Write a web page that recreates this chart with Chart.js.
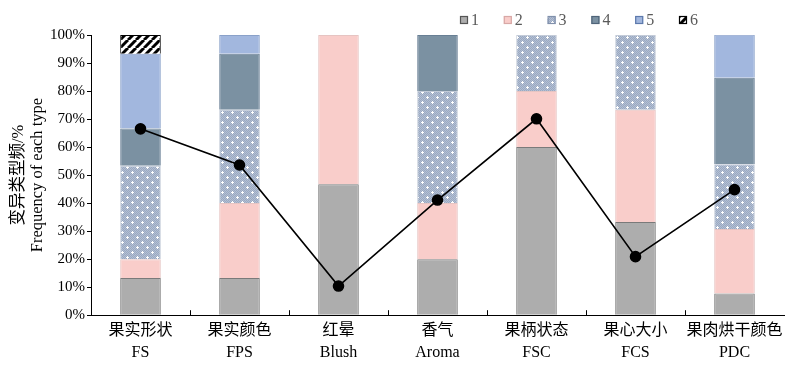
<!DOCTYPE html>
<html><head><meta charset="utf-8">
<script src="https://cdn.jsdelivr.net/npm/chart.js@4/dist/chart.umd.min.js"></script>
<style>html,body{margin:0;padding:0;background:#fff}canvas{display:block}</style>
</head><body>
<canvas id="c" width="800" height="374"></canvas>
<script>
const categoriesCN = ['果实形状','果实颜色','红晕','香气','果柄状态','果心大小','果肉烘干颜色'];
const categoriesEN = ['FS','FPS','Blush','Aroma','FSC','FCS','PDC'];
const typeNames = ['1','2','3','4','5','6'];
const type1 = [13.3, 13.3, 46.7, 20.0, 60.0, 33.3, 7.7];
const type2 = [6.7, 26.7, 53.3, 20.0, 20.0, 40.0, 23.1];
const type3 = [33.3, 33.3, null, 40.0, 20.0, 26.7, 23.1];
const type4 = [13.3, 20.0, null, 20.0, null, null, 30.8];
const type5 = [26.7, 6.7, null, null, null, null, 15.4];
const type6 = [6.7, null, null, null, null, null, null];
const frequency = [66.5, 53.6, 10.4, 41.1, 70.1, 20.9, 44.8];
const yTickValues = [0,10,20,30,40,50,60,70,80,90,100];

const FONT = "'Liberation Serif', 'Noto Sans CJK SC', serif";

function makePattern3(){
  const c=document.createElement('canvas'); c.width=10; c.height=10;
  const g=c.getContext('2d');
  g.fillStyle='#b3bfd3'; g.fillRect(0,0,10,10);
  g.fillStyle='#9aa9c2';
  for(let y=0;y<10;y++)for(let x=0;x<10;x++) if((x+y)%2===0) g.fillRect(x,y,1,1);
  g.fillStyle='#ffffff';
  [[2,2],[7,7]].forEach(([x,y])=>{g.fillRect(x-1,y,3,1);g.fillRect(x,y-1,1,3);});
  return g.createPattern(c,'repeat');
}
function makeHatch(){
  const s=8; const c=document.createElement('canvas'); c.width=s; c.height=s;
  const g=c.getContext('2d');
  g.fillStyle='#fff'; g.fillRect(0,0,s,s);
  g.strokeStyle='#000'; g.lineWidth=3;
  for(const o of [-s,0,s]){ g.beginPath(); g.moveTo(o,s); g.lineTo(o+s,0); g.stroke(); }
  return g.createPattern(c,'repeat');
}

const fills = ['#adadad','#f9cdca',makePattern3(),'#7b91a2','#a2b7de',makeHatch()];
const borders = ['#7a7a7a','#e6c4c2','#c3cbd8','#687f94','#8aa1c9','#000000'];
const legendBorders = ['#555555','#d8a8a6','#8090ab','#4f6479','#5d79ac','#000000'];
const typeData = [type1,type2,type3,type4,type5,type6];

const datasets = typeData.map((d,i)=>({
  type:'bar', label:typeNames[i], data:d, backgroundColor:fills[i], borderColor:borders[i],
  borderWidth:1, stack:'s', order:2, barPercentage:0.82, categoryPercentage:0.5
}));
datasets.push({
  type:'line', label:'freq', data:frequency, yAxisID:'y2', borderColor:'#000', borderWidth:1.6,
  pointRadius:5, pointBackgroundColor:'#000', pointBorderColor:'#000', tension:0, order:0, fill:false
});

const extras = {
  id:'extras',
  afterDraw(chart){
    const ctx=chart.ctx, xs=chart.scales.x, a=chart.chartArea;
    ctx.save();
    ctx.strokeStyle='#000'; ctx.lineWidth=1;
    for(let i=0;i<categoriesEN.length-1;i++){
      const px=Math.round((xs.getPixelForValue(i)+xs.getPixelForValue(i+1))/2)+0.5;
      ctx.beginPath(); ctx.moveTo(px,a.bottom); ctx.lineTo(px,a.bottom-5); ctx.stroke();
    }
    // legend
    ctx.font = "16px "+FONT; ctx.textBaseline='middle'; ctx.textAlign='left';
    typeNames.forEach((n,i)=>{
      const x=460+i*43.8, y=16;
      ctx.fillStyle=fills[i]; ctx.fillRect(x,y,8,8);
      ctx.strokeStyle=legendBorders[i]; ctx.lineWidth=1.2; ctx.strokeRect(x+0.5,y+0.5,7,7);
      ctx.fillStyle='#5a5a5a'; ctx.fillText(n,x+11,y+4.5);
    });
    ctx.restore();
  }
};

new Chart(document.getElementById('c'),{
  data:{labels:categoriesCN.map((c,i)=>[c,categoriesEN[i]]), datasets},
  plugins:[extras],
  options:{
    responsive:false, devicePixelRatio:1, animation:false,
    layout:{padding:{top:35,right:16,left:10,bottom:14}},
    plugins:{legend:{display:false}, tooltip:{enabled:false}},
    scales:{
      x:{stacked:true, grid:{display:false}, border:{display:true,color:'#000',width:1},
        ticks:{autoSkip:false, maxRotation:0, color:'#000', padding:-4, font:{family:FONT,size:16,lineHeight:1.4}}},
      y:{stacked:true, min:0, max:100,
        afterBuildTicks(s){ s.ticks = yTickValues.map(v=>({value:v})); },
        afterFit(s){ s.width = 81; },
        grid:{drawOnChartArea:false, drawTicks:true, tickLength:4, color:'#000'},
        border:{display:true,color:'#000',width:1},
        ticks:{color:'#000', padding:2, font:{family:FONT,size:15}, callback:v=>v+'%'},
        title:{display:true, text:['变异类型频/%','Frequency of each type'], color:'#000', padding:0,
          font:{family:FONT,size:16.5,lineHeight:1.1}}},
      y2:{display:false, min:0, max:100}
    }
  }
});
</script>
</body></html>
